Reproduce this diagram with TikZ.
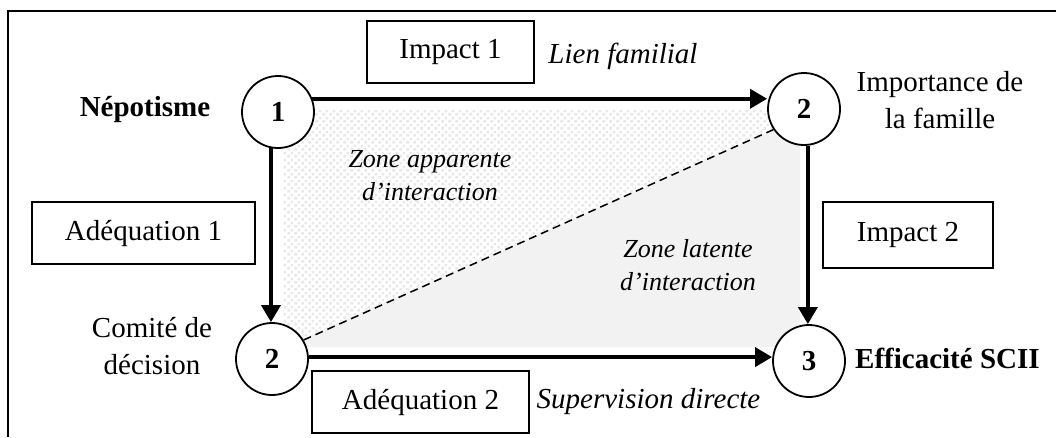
\documentclass[tikz,border=0pt]{standalone}
\usepackage{fontspec}
\setmainfont{Liberation Serif}
\usetikzlibrary{arrows.meta,patterns.meta}

\tikzdeclarepattern{
  name=grains,
  type=uncolored,
  bounding box={(0pt,0pt) and (7pt,7pt)},
  tile size={(7pt,7pt)},
  code={
    \pgfpathrectangle{\pgfpoint{0.5pt}{0.5pt}}{\pgfpoint{3pt}{3pt}}
    \pgfpathrectangle{\pgfpoint{4pt}{4pt}}{\pgfpoint{3pt}{3pt}}
    \pgfusepath{fill}
  }
}

\begin{document}
\begin{tikzpicture}[x=1pt, y=-1pt,
            every node/.style = {font=\fontsize{29}{37}\selectfont},
            etat/.style = {shape=circle, draw, line width=1.8pt, fill=white,
                           minimum size=72pt, inner sep=0pt,
                           font=\fontsize{29}{37}\selectfont\bfseries},
            boite/.style = {shape=rectangle, draw, line width=1.6pt,
                            minimum height=62pt},
            etiquette/.style = {anchor=base, align=center, inner sep=0pt},
            gras/.style = {font=\fontsize{29}{37}\selectfont\bfseries},
            italique/.style = {font=\fontsize{29}{37}\selectfont\itshape},
            zone/.style = {font=\fontsize{26}{33}\selectfont\itshape},
            fleche/.style = {line width=3.6pt, -{Triangle[length=17pt,width=19pt]}}]
    \useasboundingbox (0,0) rectangle (1056,437);
    % zones d'interaction
    \fill[pattern=grains, pattern color=gray!18]
        (283,110) -- (800,110) -- (800,118) -- (283,347) -- cycle;
    \fill[gray!10] (283,347) -- (800,118) -- (800,347) -- cycle;
    \draw[line width=1.6pt] (8,437) -- (8,11) -- (1056,11);

    \node[etat] (nep) at (278,112) {1};
    \node[etat] (fam) at (804,109) {2};
    \node[etat] (com) at (272,359) {2};
    \node[etat] (eff) at (809,361) {3};

    \draw[fleche] (nep.21) -- (nep.21 -| fam.west);
    \draw[fleche] (nep.-101) -- (nep.-101 |- com.north);
    \draw[fleche] (fam.-84) -- (fam.-84 |- eff.north);
    \draw[fleche] (com.3) -- (com.3 -| eff.west);
    \draw[line width=1.5pt, dash pattern=on 8pt off 5pt] (com.31) -- (fam.214);

    \node[boite, minimum width=167pt] (imp1) at (450.5,52) {Impact 1};
    \node[boite, minimum width=223pt] (adq1) at (143.5,233) {Adéquation 1};
    \node[boite, minimum width=170pt, minimum height=66pt] (imp2) at (908,235) {Impact 2};
    \node[boite, minimum width=217pt] (adq2) at (420.5,402) {Adéquation 2};

    \node[etiquette, gras] (lnep) at (145,116) {Népotisme};
    \node[etiquette] (lfam) at (940,128) {Importance de\\la famille};
    \node[etiquette] (lcom) at (152,374) {Comité de\\décision};
    \node[etiquette, gras, anchor=base west] (leff) at (855,368) {Efficacité SCII};
    \node[etiquette, italique] (llien) at (623,63) {Lien familial};
    \node[etiquette, italique] (lsup) at (648.5,408) {Supervision directe};
    \node[etiquette, zone] (zapp) at (430,200) {Zone apparente\\d’interaction};
    \node[etiquette, zone] (zlat) at (688,290) {Zone latente\\d’interaction};
\end{tikzpicture}
\end{document}
